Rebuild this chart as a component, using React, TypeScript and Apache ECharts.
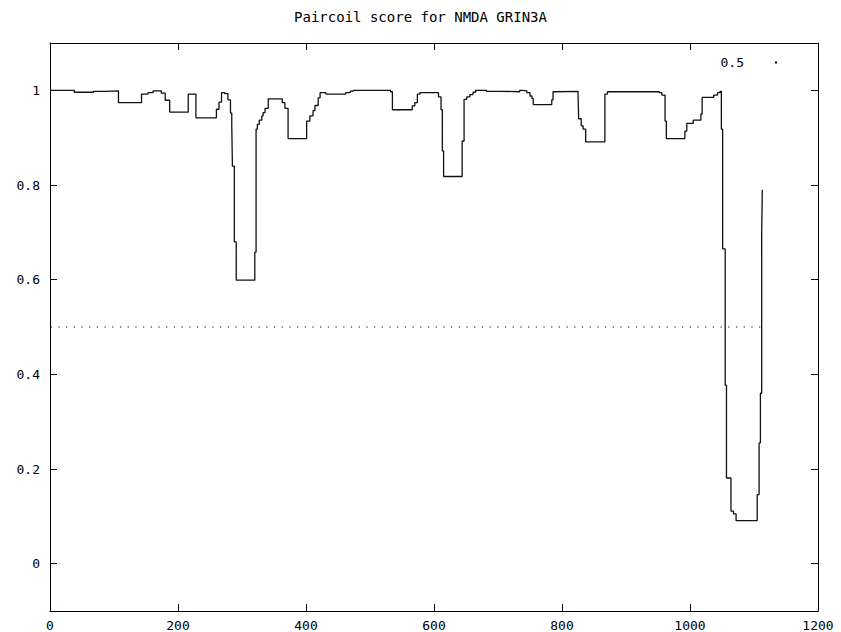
import React, { useEffect, useRef } from "react";
import * as echarts from "echarts";

const TITLE = "Paircoil score for NMDA GRIN3A";
const xTicks = [0, 200, 400, 600, 800, 1000, 1200];
const yTicks = [0, 0.2, 0.4, 0.6, 0.8, 1];

// residue position where each score level starts
const positions = [
  0, 38, 68, 86, 107, 143, 153, 161, 174, 180, 187, 216, 228, 260, 264, 268, 273, 278, 282, 284,
  285, 288, 291, 320, 322, 324, 327, 331, 333, 336, 341, 363, 367, 372, 401, 406, 411, 414, 419,
  422, 431, 462, 469, 474, 532, 535, 566, 570, 574, 578, 607, 611, 613, 615, 644, 647, 651, 656,
  661, 665, 682, 705, 734, 739, 745, 750, 753, 755, 784, 786, 789, 825, 826, 830, 833, 837, 867,
  871, 952, 956, 961, 963, 992, 995, 1005, 1017, 1019, 1037, 1043, 1047, 1049, 1051, 1055, 1057,
  1064, 1068, 1072, 1105, 1108, 1110, 1112, 1113, 1114,
];
const scores = [
  1.0, 0.996, 0.998, 0.999, 0.974, 0.992, 0.995, 0.999, 0.994, 0.979, 0.954, 0.992, 0.942, 0.96,
  0.975, 0.995, 0.993, 0.98, 0.952, 0.928, 0.84, 0.68, 0.599, 0.658, 0.918, 0.928, 0.937, 0.946,
  0.953, 0.962, 0.982, 0.974, 0.962, 0.898, 0.935, 0.946, 0.957, 0.968, 0.984, 0.995, 0.992,
  0.995, 0.9985, 1.0, 0.997, 0.959, 0.967, 0.974, 0.992, 0.995, 0.986, 0.959, 0.872, 0.818, 0.893,
  0.981, 0.986, 0.991, 0.996, 1.0, 0.998, 0.997, 1.0, 0.999, 0.995, 0.988, 0.983, 0.97, 0.98,
  0.997, 0.998, 0.995, 0.94, 0.925, 0.918, 0.891, 0.992, 0.997, 0.995, 0.99, 0.935, 0.898, 0.914,
  0.93, 0.937, 0.95, 0.985, 0.99, 0.995, 0.998, 0.918, 0.665, 0.377, 0.181, 0.111, 0.105, 0.091,
  0.146, 0.255, 0.36, 0.697, 0.79, 0.79,
];
const thresholdX = [1, 1113];
const thresholdY = [0.5, 0.5];

const FONT = "DejaVu Sans Mono";

export default function App() {
  const ref = useRef<HTMLDivElement>(null);
  useEffect(() => {
    if (!ref.current) return;
    const chart = echarts.init(ref.current, null, { renderer: "svg" });
    const axisLine = { show: true, onZero: false, lineStyle: { color: "#000", width: 1 } };
    const tick = { show: true, inside: true, length: 7, lineStyle: { color: "#000" } };
    chart.setOption({
      animation: false,
      backgroundColor: "#fff",
      title: {
        text: TITLE,
        left: "center",
        top: 5,
        textStyle: { fontFamily: FONT, fontSize: 14, fontWeight: "normal", color: "#000" },
      },
      legend: {
        data: ["0.5"],
        right: 59,
        top: 51,
        align: "right",
        icon: "rect",
        itemWidth: 2,
        itemHeight: 2,
        textStyle: { fontFamily: FONT, fontSize: 13, color: "#000", padding: [0, 26, 0, 0] },
      },
      grid: { left: 50, top: 43, width: 768, height: 571, containLabel: false },
      xAxis: [
        {
          type: "value",
          min: 0,
          max: 1200,
          interval: 200,
          position: "bottom",
          axisLine,
          axisTick: { ...tick, customValues: xTicks },
          axisLabel: {
            margin: 8,
            fontFamily: FONT,
            fontSize: 13,
            color: "#000",
            customValues: xTicks,
            formatter: (v: number) => String(v),
          },
          splitLine: { show: false },
        },
        {
          type: "value",
          min: 0,
          max: 1200,
          interval: 200,
          position: "top",
          axisLine,
          axisTick: { ...tick, customValues: xTicks },
          axisLabel: { show: false },
          splitLine: { show: false },
        },
      ],
      yAxis: [
        {
          type: "value",
          min: -0.1,
          max: 1.1,
          position: "left",
          axisLine,
          axisTick: { ...tick, customValues: yTicks },
          axisLabel: {
            margin: 10,
            fontFamily: FONT,
            fontSize: 13,
            color: "#000",
            customValues: yTicks,
            formatter: (v: number) => String(Math.round(v * 10) / 10),
          },
          splitLine: { show: false },
        },
        {
          type: "value",
          min: -0.1,
          max: 1.1,
          position: "right",
          axisLine,
          axisTick: { ...tick, customValues: yTicks },
          axisLabel: { show: false },
          splitLine: { show: false },
        },
      ],
      series: [
        {
          name: "score",
          type: "line",
          step: "end",
          xAxisIndex: 0,
          yAxisIndex: 0,
          symbol: "none",
          lineStyle: { color: "#111", width: 1.3 },
          itemStyle: { color: "#111" },
          data: positions.map((p, i) => [p, scores[i]]),
          z: 3,
        },
        {
          name: "0.5",
          type: "line",
          xAxisIndex: 0,
          yAxisIndex: 0,
          symbol: "none",
          lineStyle: { color: "#000", width: 1.2, type: [1.2, 6.5] },
          itemStyle: { color: "#000" },
          data: thresholdX.map((x, i) => [x, thresholdY[i]]),
          z: 2,
        },
      ],
    });
    return () => chart.dispose();
  }, []);
  return (
    <div
      ref={ref}
      style={{ position: "fixed", left: 0, top: 0, width: 841, height: 632, background: "#fff" }}
    />
  );
}
